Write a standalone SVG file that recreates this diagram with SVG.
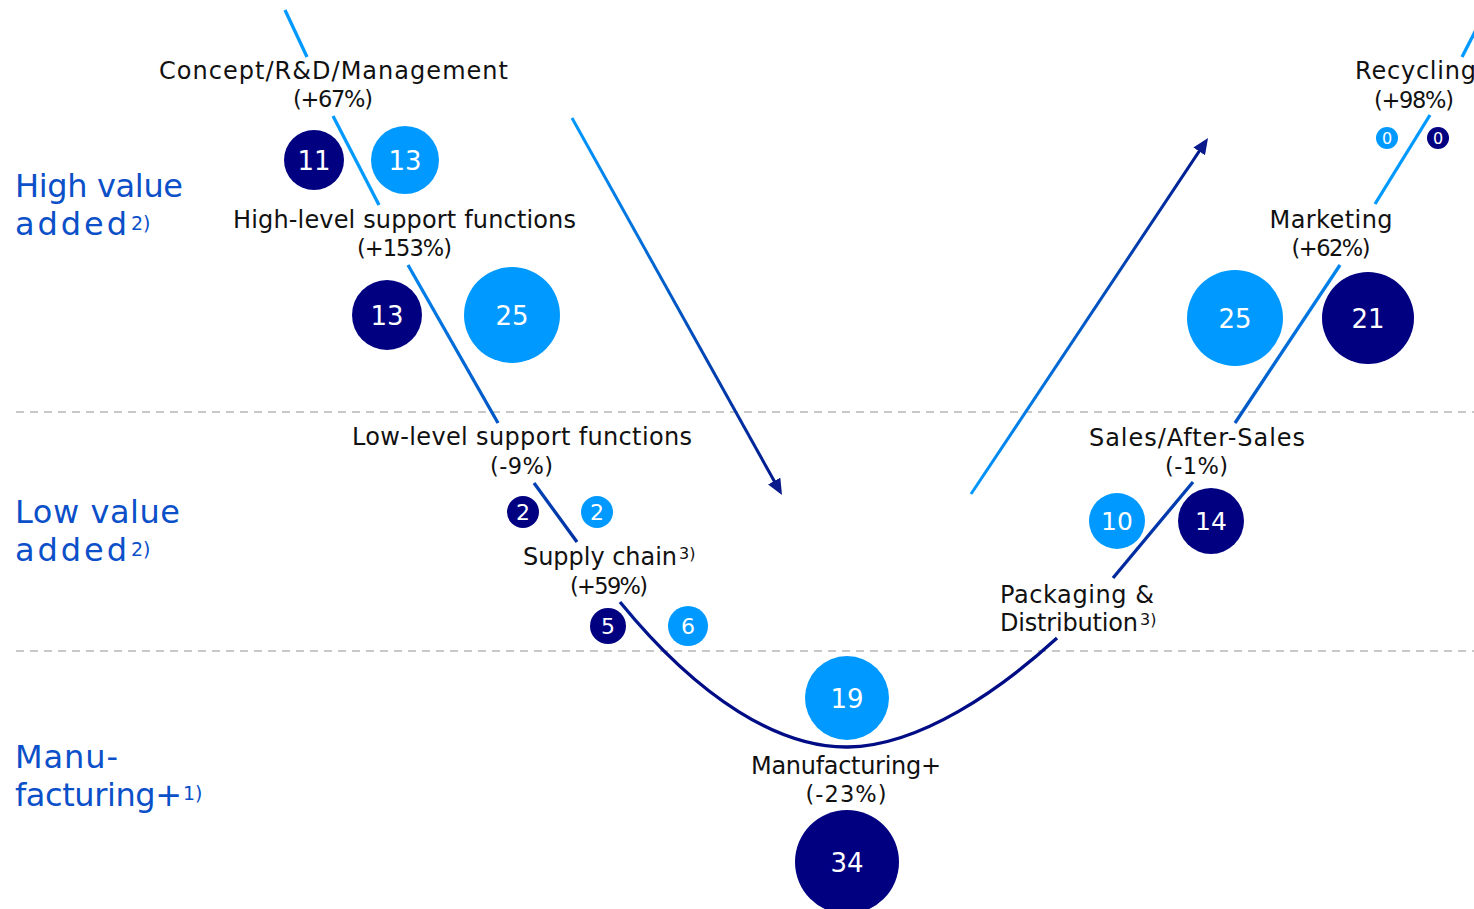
<svg xmlns="http://www.w3.org/2000/svg" width="1474" height="909" viewBox="0 0 1474 909">
<style>
.lbl{font-family:"DejaVu Sans","Liberation Sans",sans-serif;font-size:24px;fill:#111;text-anchor:middle}
.pc{font-size:22.5px}
.st{text-anchor:start}
.sup{font-size:16px}
.ax{font-family:"DejaVu Sans","Liberation Sans",sans-serif;font-size:32px;fill:#0b50c8}
.axs{font-size:19px}
.num{font-family:"DejaVu Sans","Liberation Sans",sans-serif;fill:#fff;text-anchor:middle}
.n26{font-size:26px}.n25{font-size:25px}.n20{font-size:22px}.n15{font-size:16px}
.navy{fill:#000080}.light{fill:#0099ff}
.sep{stroke:#c8c8c8;stroke-width:2;stroke-dasharray:8 6;fill:none}
.v{stroke:url(#gV);stroke-width:3.3;fill:none}
</style>
<defs>
<linearGradient id="gV" gradientUnits="userSpaceOnUse" x1="0" y1="200" x2="0" y2="660">
<stop offset="0" stop-color="#0099ff"/><stop offset="1" stop-color="#000c85"/>
</linearGradient>
<linearGradient id="gL" gradientUnits="userSpaceOnUse" x1="572" y1="118" x2="782" y2="495">
<stop offset="0" stop-color="#0099ff"/><stop offset="1" stop-color="#001489"/>
</linearGradient>
<linearGradient id="gR" gradientUnits="userSpaceOnUse" x1="971" y1="494" x2="1208" y2="138">
<stop offset="0" stop-color="#0099ff"/><stop offset="1" stop-color="#001489"/>
</linearGradient>
<marker id="ah" viewBox="0 0 16 14" refX="8" refY="7" markerWidth="16" markerHeight="14" markerUnits="userSpaceOnUse" orient="auto">
<path d="M0,0 L16,7 L0,14 z" fill="#0a1a8a"/>
</marker>
</defs>
<rect width="1474" height="909" fill="#fff"/>

<g id="separators">
<line class="sep" x1="16" y1="412" x2="1474" y2="412"/>
<line class="sep" x1="16" y1="651" x2="1474" y2="651"/>
</g>

<g id="axis-labels">
<text class="ax" x="15" y="197" textLength="168">High value</text>
<text class="ax" x="15" y="235"><tspan textLength="112">added</tspan><tspan class="axs" x="131" y="230">2)</tspan></text>
<text class="ax" x="15" y="523" textLength="165">Low value</text>
<text class="ax" x="15" y="561"><tspan textLength="112">added</tspan><tspan class="axs" x="131" y="556">2)</tspan></text>
<text class="ax" x="15" y="768" textLength="103">Manu-</text>
<text class="ax" x="15" y="806"><tspan textLength="167">facturing+</tspan><tspan class="axs" x="183" y="800">1)</tspan></text>
</g>

<g id="connectors">
<path class="v" d="M285,10 L307,57"/>
<path class="v" d="M333,116 L379,205"/>
<path class="v" d="M408,265 L498,423"/>
<path class="v" d="M534,483 L577,542"/>
<path class="v" d="M620,602 C700,700 780,748 848,747 C920,746 1000,690 1057,638"/>
<path class="v" d="M1113,578 L1193,482"/>
<path class="v" d="M1235,423 L1340,265"/>
<path class="v" d="M1375,204 L1430,115"/>
<path class="v" d="M1462,57 L1480,22"/>
<line x1="572" y1="118" x2="778.1" y2="488" stroke="url(#gL)" stroke-width="3" marker-end="url(#ah)"/>
<line x1="971" y1="494" x2="1203.6" y2="144.7" stroke="url(#gR)" stroke-width="3" marker-end="url(#ah)"/>
</g>

<g id="node-concept">
<text class="lbl" x="333.5" y="79" textLength="349">Concept/R&amp;D/Management</text>
<text class="lbl pc" x="333" y="107" textLength="80">(+67%)</text>
<circle class="navy" cx="314" cy="160" r="30"/><text class="num n26" x="314" y="169.5">11</text>
<circle class="light" cx="405" cy="160" r="34"/><text class="num n26" x="405" y="169.5">13</text>
</g>

<g id="node-high-level">
<text class="lbl" x="404.5" y="228" textLength="343">High-level support functions</text>
<text class="lbl pc" x="404.5" y="256" textLength="95">(+153%)</text>
<circle class="navy" cx="387" cy="315" r="35"/><text class="num n26" x="387" y="324.5">13</text>
<circle class="light" cx="512" cy="315" r="48"/><text class="num n26" x="512" y="324.5">25</text>
</g>

<g id="node-low-level">
<text class="lbl" x="522" y="445" textLength="340">Low-level support functions</text>
<text class="lbl pc" x="521.5" y="474" textLength="63">(-9%)</text>
<circle class="navy" cx="523" cy="512" r="16"/><text class="num n20" x="523" y="520">2</text>
<circle class="light" cx="597" cy="512" r="16"/><text class="num n20" x="597" y="520">2</text>
</g>

<g id="node-supply-chain">
<text class="lbl st" x="523" y="565"><tspan textLength="154">Supply chain</tspan><tspan class="sup" x="679" y="559">3)</tspan></text>
<text class="lbl pc" x="609" y="594" textLength="78">(+59%)</text>
<circle class="navy" cx="608" cy="626" r="18"/><text class="num n20" x="608" y="634">5</text>
<circle class="light" cx="688" cy="626" r="20"/><text class="num n20" x="688" y="634">6</text>
</g>

<g id="node-manufacturing">
<circle class="light" cx="847" cy="698" r="42"/><text class="num n26" x="847" y="707.5">19</text>
<text class="lbl" x="846" y="774" textLength="190">Manufacturing+</text>
<text class="lbl pc" x="846" y="802" textLength="81">(-23%)</text>
<circle class="navy" cx="847" cy="862" r="52"/><text class="num n26" x="847" y="871.5">34</text>
</g>

<g id="node-packaging">
<text class="lbl st" x="1000" y="603" textLength="154">Packaging &amp;</text>
<text class="lbl st" x="1000" y="631"><tspan textLength="138">Distribution</tspan><tspan class="sup" x="1140" y="625">3)</tspan></text>
</g>

<g id="node-sales">
<text class="lbl" x="1197" y="446" textLength="216">Sales/After-Sales</text>
<text class="lbl pc" x="1196.5" y="474" textLength="63">(-1%)</text>
<circle class="light" cx="1117" cy="521" r="28"/><text class="num n25" x="1117" y="530">10</text>
<circle class="navy" cx="1211" cy="521" r="33"/><text class="num n25" x="1211" y="530">14</text>
</g>

<g id="node-marketing">
<text class="lbl" x="1331" y="228" textLength="123">Marketing</text>
<text class="lbl pc" x="1331" y="256" textLength="79">(+62%)</text>
<circle class="light" cx="1235" cy="318" r="48"/><text class="num n26" x="1235" y="327.5">25</text>
<circle class="navy" cx="1368" cy="318" r="46"/><text class="num n26" x="1368" y="327.5">21</text>
</g>

<g id="node-recycling">
<text class="lbl st" x="1355" y="79" textLength="121">Recycling</text>
<text class="lbl pc" x="1414" y="108" textLength="80">(+98%)</text>
<circle class="light" cx="1387" cy="138" r="11"/><text class="num n15" x="1387" y="143.8">0</text>
<circle class="navy" cx="1438" cy="138" r="11"/><text class="num n15" x="1438" y="143.8">0</text>
</g>
</svg>
